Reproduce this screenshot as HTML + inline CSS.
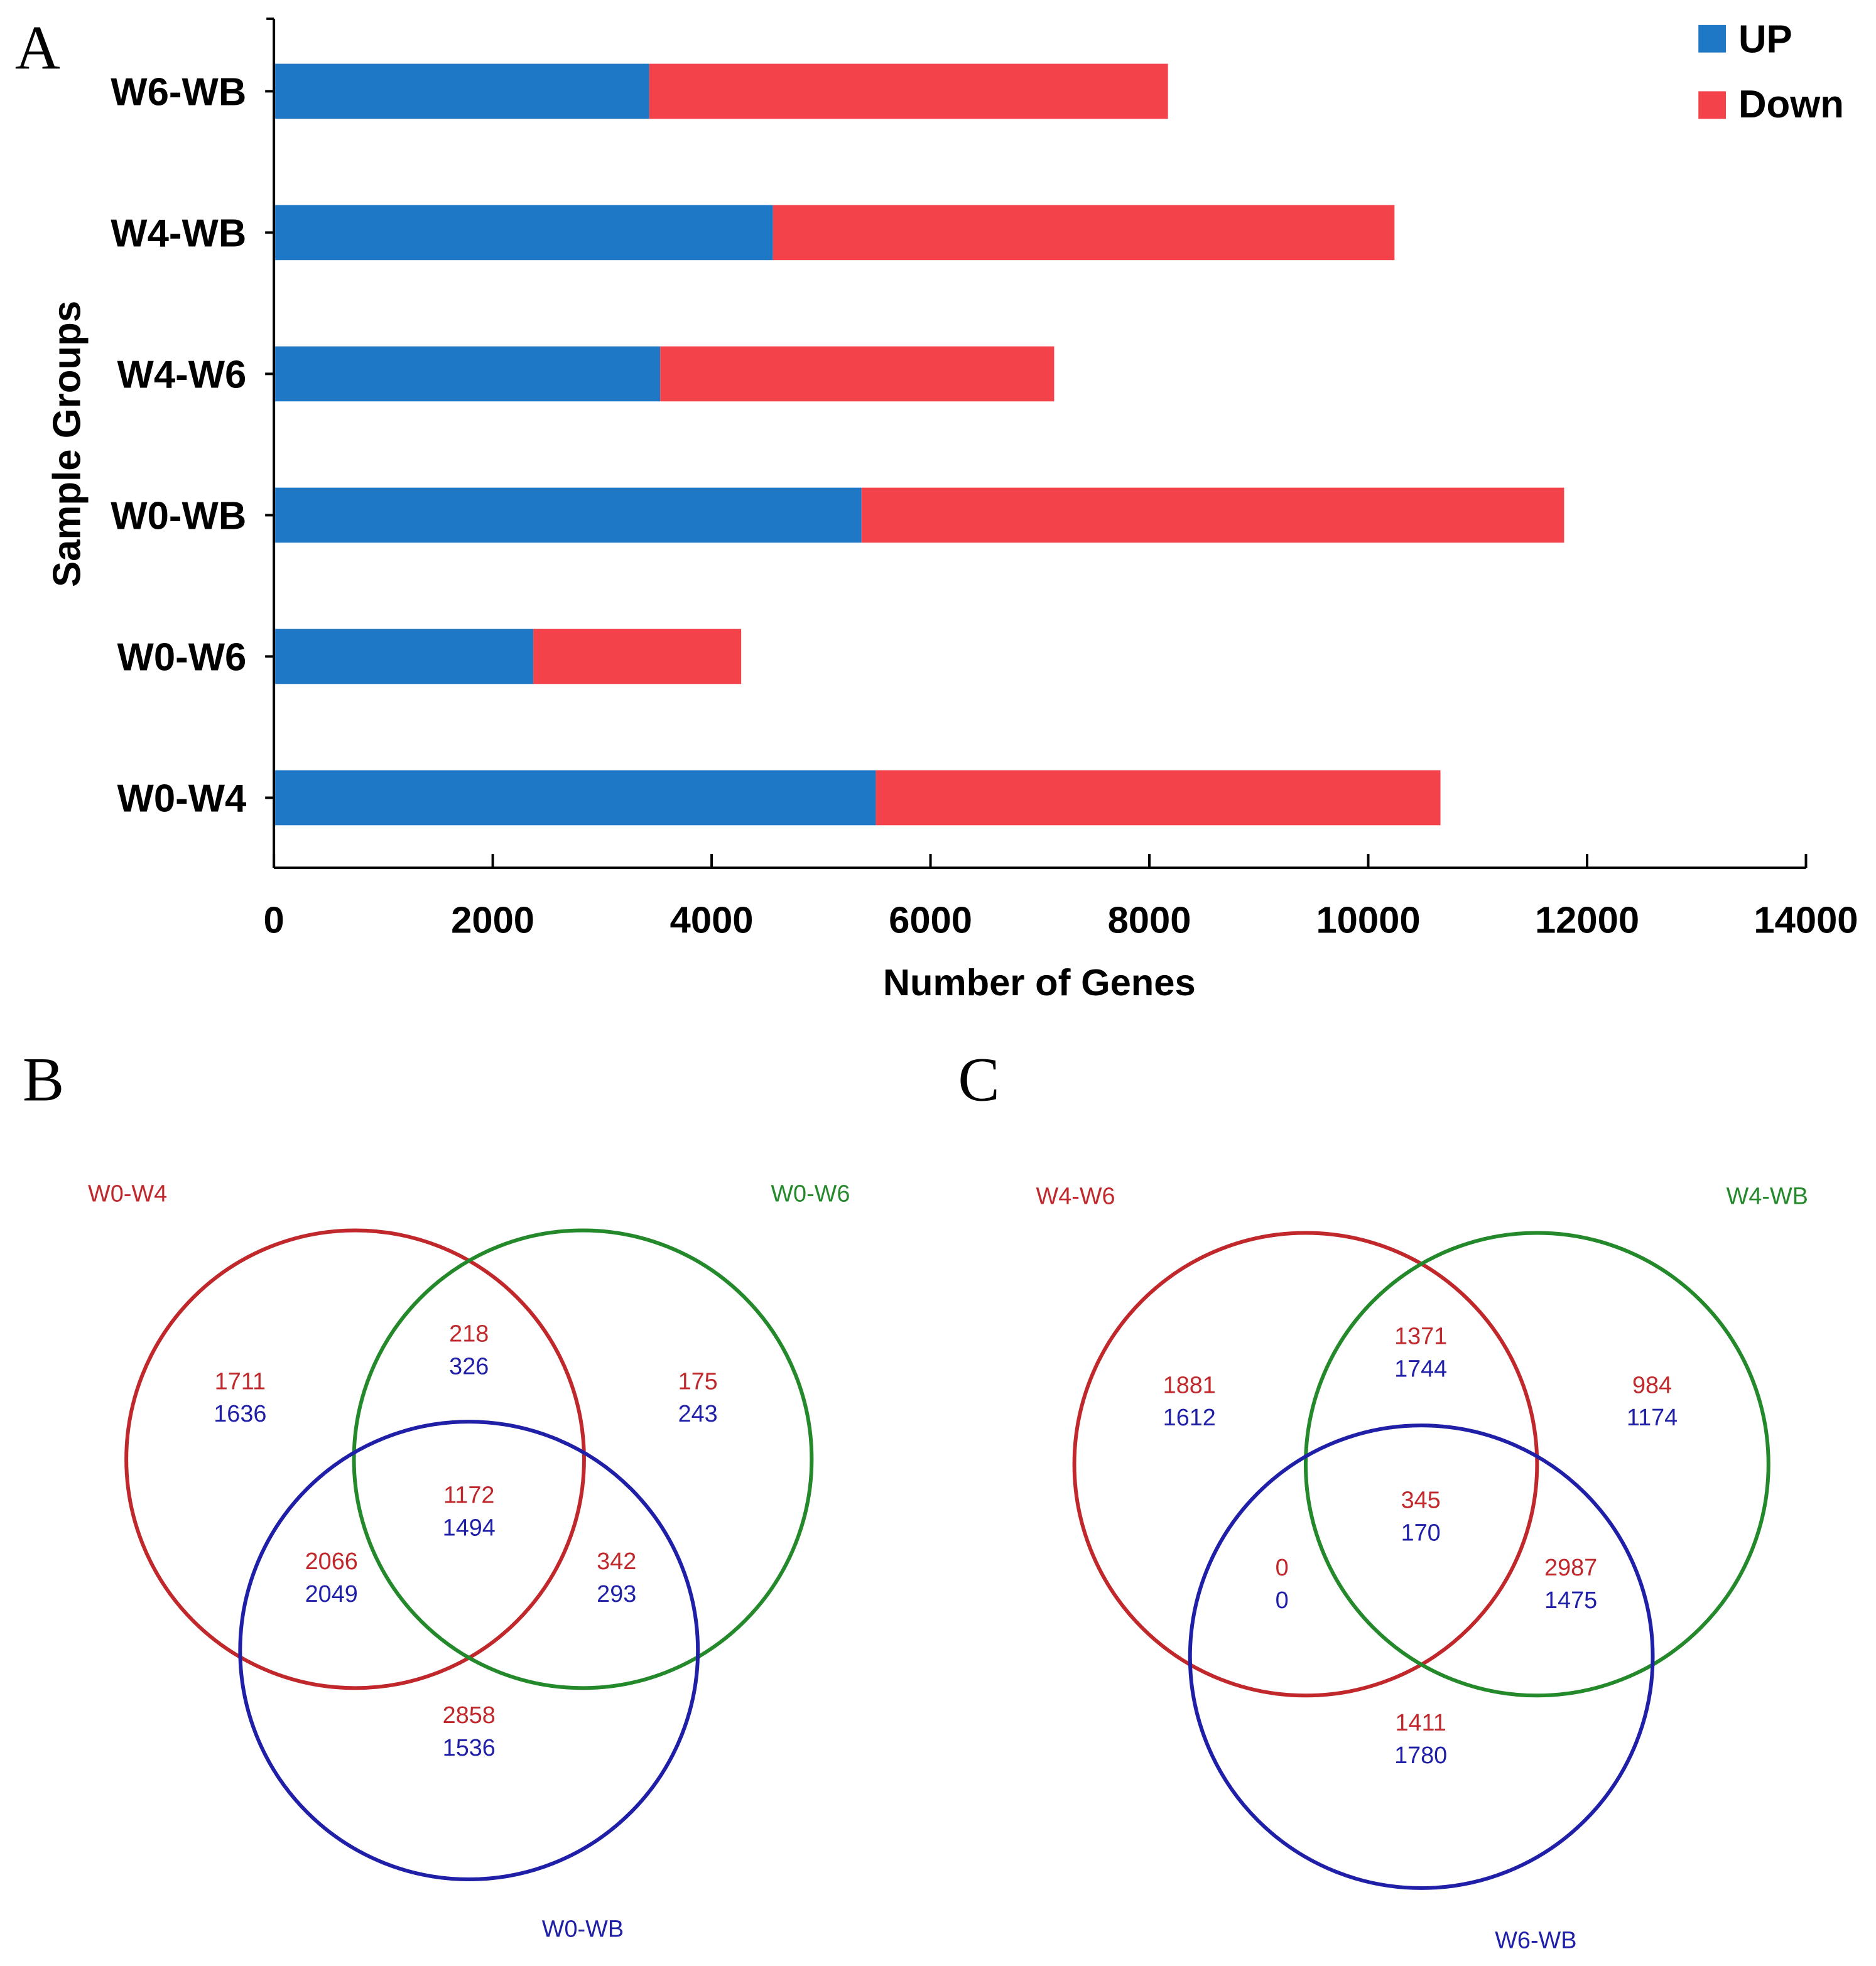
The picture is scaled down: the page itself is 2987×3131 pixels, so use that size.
<!DOCTYPE html>
<html><head><meta charset="utf-8"><style>
html,body{margin:0;padding:0;background:#fff}
svg{display:block}
</style></head><body>
<svg id="fig" xmlns="http://www.w3.org/2000/svg" width="2987" height="3131" viewBox="0 0 1500 1572.3" preserveAspectRatio="none" font-family="'Liberation Sans', sans-serif">
<rect width="1500" height="1572.3" fill="#fff"/>
<g id="chartA"></g>
<g id="vennB"></g>
<g id="vennC"></g>
</svg>
<script>
const categories = ["W6-WB","W4-WB","W4-W6","W0-WB","W0-W6","W0-W4"];
const upValues = [3430,4560,3530,5370,2370,5500];
const downValues = [4740,5680,3600,6420,1900,5160];
const xTicks = [0,2000,4000,6000,8000,10000,12000,14000];
const vennBLabels = ["W0-W4","W0-W6","W0-WB"];
const vennBTop = ["1711","218","175","2066","1172","342","2858"];
const vennBBot = ["1636","326","243","2049","1494","293","1536"];
const vennCLabels = ["W4-W6","W4-WB","W6-WB"];
const vennCTop = ["1881","1371","984","0","345","2987","1411"];
const vennCBot = ["1612","1744","1174","0","170","1475","1780"];

const NS="http://www.w3.org/2000/svg";
function mk(parent,tag,attrs,text){const e=document.createElementNS(NS,tag);for(const k in attrs)e.setAttribute(k,attrs[k]);if(text!==undefined)e.textContent=text;parent.appendChild(e);return e;}

const A=document.getElementById('chartA');
const x0=219,x1=1444,xMax=14000;
const xs=v=>x0+(v/xMax)*(x1-x0);
const yTop=15,yBot=694;
const ys=i=>73+i*113;
const barH=44;
let t=mk(A,'text',{x:12,y:55,'font-family':"'Liberation Serif', serif",'font-size':50},'A');


let l=mk(A,'line',{x1:x0,y1:yTop,x2:x0,y2:yBot,stroke:'#000','stroke-width':2});


l=mk(A,'line',{x1:x0,y1:yBot,x2:x1,y2:yBot,stroke:'#000','stroke-width':2});


mk(A,'line',{x1:x0,y1:yTop,x2:x0-6,y2:yTop,stroke:'#000','stroke-width':2});
xTicks.forEach(v=>{
  const x=xs(v);
  const tk=mk(A,'line',{x1:x,y1:yBot,x2:x,y2:yBot-11,stroke:'#000','stroke-width':2});
  
  
  const tl=mk(A,'text',{x:x,y:746,'text-anchor':'middle','font-size':30,'font-weight':'bold'},String(v));
  
  
});
t=mk(A,'text',{x:831,y:796,'text-anchor':'middle','font-size':30,'font-weight':'bold'},'Number of Genes');


t=mk(A,'text',{x:0,y:0,transform:'translate(64,355) rotate(-90)','text-anchor':'middle','font-size':31,'font-weight':'bold'},'Sample Groups');


categories.forEach((c,i)=>{
  const y=ys(i);
  const tk=mk(A,'line',{x1:x0,y1:y,x2:x0-7,y2:y,stroke:'#000','stroke-width':2});
  
  
  const cl=mk(A,'text',{x:197,y:y+11,'text-anchor':'end','font-size':31,'font-weight':'bold'},c);
  
  
  const up=mk(A,'rect',{x:xs(0)+1,y:y-barH/2,width:xs(upValues[i])-xs(0)-1,height:barH,fill:'#1f78c6'});
  
  
  const dn=mk(A,'rect',{x:xs(upValues[i]),y:y-barH/2,width:xs(upValues[i]+downValues[i])-xs(upValues[i]),height:barH,fill:'#f4424a'});
  
  
});
let r=mk(A,'rect',{x:1358,y:20,width:22,height:22,fill:'#1f78c6'});


t=mk(A,'text',{x:1390,y:42,'font-size':31,'font-weight':'bold'},'UP');


r=mk(A,'rect',{x:1358,y:73,width:22,height:22,fill:'#f4424a'});


t=mk(A,'text',{x:1390,y:94,'font-size':31,'font-weight':'bold'},'Down');



const RED='#c0282c',GRN='#23892a',BLU='#1f1fa8';
function venn(g,letter,lx,cx,cy,dx,dy,R,labels,labPos,tops,bots,pos){
  let p=mk(g,'text',{x:lx,y:880,'font-family':"'Liberation Serif', serif",'font-size':50},letter);
  
  
  const cols=[RED,GRN,BLU];
  const centers=[[cx,cy],[cx+dx,cy],[cx+dx/2,cy+dy]];
  centers.forEach((c,i)=>{
    const ci=mk(g,'circle',{cx:c[0],cy:c[1],r:R,fill:'none',stroke:cols[i],'stroke-width':3});
    
    
    const tl=mk(g,'text',{x:labPos[i][0],y:labPos[i][1],'text-anchor':'middle','font-size':19,fill:cols[i]},labels[i]);
    
    
  });
  pos.forEach((q,i)=>{
    const a=mk(g,'text',{x:q[0],y:q[1],'text-anchor':'middle','font-size':19,fill:RED},tops[i]);
    
    
    const b=mk(g,'text',{x:q[0],y:q[1]+26,'text-anchor':'middle','font-size':19,fill:BLU},bots[i]);
    
    
  });
}
venn(document.getElementById('vennB'),'B',18,284,1167,182,153,183,vennBLabels,[[102,961],[648,961],[466,1549]],vennBTop,vennBBot,
 [[192,1111],[375,1073],[558,1111],[265,1255],[375,1202],[493,1255],[375,1378]]);
venn(document.getElementById('vennC'),'C',766,1044,1171,185,154,185,vennCLabels,[[860,963],[1413,963],[1228,1558]],vennCTop,vennCBot,
 [[951,1114],[1136,1075],[1321,1114],[1025,1260],[1136,1206],[1256,1260],[1136,1384]]);
</script>
</body></html>
